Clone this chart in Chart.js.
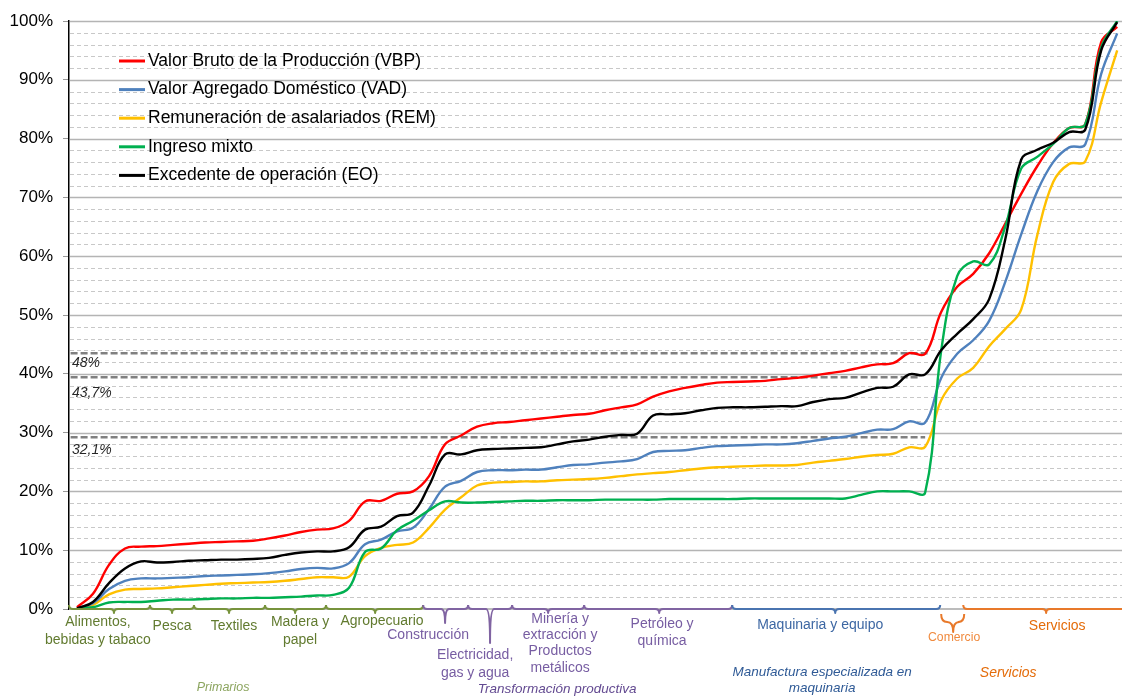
<!DOCTYPE html>
<html lang="es">
<head>
<meta charset="utf-8">
<title>Distribución acumulada por sector</title>
<script src="https://cdn.jsdelivr.net/npm/chart.js@4.4.1/dist/chart.umd.min.js"></script>
<style>
  html, body { margin: 0; padding: 0; background: #fff; }
  #wrap { width: 1122px; height: 696px; position: relative; }
</style>
</head>
<body>
<div id="wrap"><canvas id="grafico"></canvas></div>
<script>
// Sectores ordenados (posición en el eje x)
const sectores = [1, 2, 3, 4, 5, 6, 7, 8, 9, 10, 11, 12, 13, 14, 15, 16, 17, 18, 19, 20, 21, 22,
  23, 24, 25, 26, 27, 28, 29, 30, 31, 32, 33, 34, 35, 36, 37, 38, 39, 40, 41, 42, 43, 44,
  45, 46, 47, 48, 49, 50, 51, 52, 53, 54, 55, 56, 57, 58, 59, 60, 61, 62, 63, 64, 65, 66];

// Participación acumulada (%)
const vbp = [0.3, 2.6, 7.5, 10.3, 10.6, 10.7, 10.9, 11.1, 11.3, 11.4, 11.5, 11.6, 12.0, 12.5, 13.1, 13.5,
  13.7, 15.0, 18.3, 18.4, 19.6, 20.0, 22.6, 28.0, 29.5, 31.0, 31.6, 31.8, 32.1, 32.4, 32.7, 33.0,
  33.2, 33.8, 34.3, 34.8, 36.1, 37.0, 37.6, 38.1, 38.5, 38.6, 38.7, 38.8, 39.1, 39.3, 39.7, 40.1,
  40.5, 41.1, 41.6, 41.8, 43.5, 43.4, 50.5, 54.8, 57.0, 60.5, 65.5, 70.6, 75.3, 79.2, 81.8, 82.4, 96.4, 99.0];
const vad = [0.1, 1.0, 3.4, 4.8, 5.2, 5.2, 5.3, 5.4, 5.6, 5.7, 5.8, 5.9, 6.1, 6.4, 6.8, 7.0,
  6.9, 7.8, 11.0, 11.8, 13.2, 13.8, 17.0, 20.8, 21.8, 23.3, 23.6, 23.6, 23.7, 23.7, 24.1, 24.5,
  24.6, 24.9, 25.1, 25.5, 26.7, 26.9, 27.0, 27.4, 27.7, 27.8, 27.9, 28.0, 28.0, 28.2, 28.6, 29.0,
  29.3, 29.9, 30.5, 30.6, 31.9, 31.7, 39.3, 43.4, 45.7, 49.0, 55.6, 63.7, 71.0, 76.0, 78.5, 79.0, 91.0, 97.9];
const rem = [0.1, 0.7, 2.5, 3.3, 3.4, 3.5, 3.7, 3.9, 4.1, 4.3, 4.4, 4.5, 4.6, 4.8, 5.1, 5.4,
  5.4, 5.5, 9.0, 10.4, 10.9, 11.3, 13.8, 16.9, 19.0, 21.0, 21.5, 21.6, 21.7, 21.7, 21.9, 22.0,
  22.1, 22.3, 22.6, 22.9, 23.1, 23.3, 23.6, 23.9, 24.1, 24.2, 24.3, 24.4, 24.4, 24.5, 24.9, 25.2,
  25.5, 25.9, 26.2, 26.4, 27.5, 27.6, 35.5, 39.2, 41.0, 44.7, 47.6, 50.9, 63.5, 72.6, 75.7, 76.1, 86.2, 95.0];
const im = [0.1, 0.3, 1.1, 1.2, 1.2, 1.4, 1.6, 1.6, 1.7, 1.8, 1.8, 1.9, 1.9, 2.0, 2.1, 2.3,
  2.4, 3.6, 9.7, 10.3, 13.4, 15.0, 16.8, 18.3, 18.1, 18.1, 18.2, 18.3, 18.4, 18.4, 18.5, 18.5,
  18.5, 18.6, 18.6, 18.6, 18.6, 18.7, 18.7, 18.7, 18.7, 18.7, 18.8, 18.8, 18.8, 18.8, 18.8, 18.8,
  18.8, 19.4, 20.0, 20.0, 20.0, 19.8, 43.9, 56.6, 59.1, 58.6, 65.0, 74.9, 76.9, 79.1, 81.8, 82.4, 95.5, 100];
const eo = [0.1, 1.2, 4.4, 6.9, 8.1, 7.9, 8.0, 8.2, 8.3, 8.4, 8.4, 8.5, 8.7, 9.2, 9.6, 9.8,
  9.8, 10.5, 13.5, 14.0, 15.8, 16.4, 21.0, 26.3, 26.3, 27.0, 27.2, 27.3, 27.4, 27.5, 28.0, 28.5,
  28.8, 29.3, 29.6, 29.8, 32.9, 33.1, 33.3, 33.8, 34.2, 34.3, 34.3, 34.4, 34.5, 34.5, 35.2, 35.7,
  35.9, 36.8, 37.6, 37.8, 39.9, 39.9, 44.0, 46.8, 49.3, 52.7, 62.8, 76.4, 78.1, 79.3, 81.1, 81.5, 95.0, 99.8];

// Líneas de referencia punteadas (valor en el eje y y sector donde terminan)
const refValores = [43.5, 39.4, 29.2];
const refFin = [54.3, 53.6, 54.0];
const refEtiquetas = ['48%', '43,7%', '32,1%'];

// Textos del eje x
const etiquetasSector = [
  ['Alimentos,', 'bebidas y tabaco'], ['Pesca'], ['Textiles'], ['Madera y', 'papel'], ['Agropecuario'],
  ['Construcción'], ['Electricidad,', 'gas y agua'], ['Minería y', 'extracción y', 'Productos', 'metálicos'],
  ['Petróleo y', 'química'], ['Maquinaria y equipo'], ['Comercio'], ['Servicios']
];
const etiquetasGrupo = [['Primarios'], ['Transformación productiva'], ['Manufactura especializada en', 'maquinaria'], ['Servicios']];

const FUENTE = "'Liberation Sans', Arial, sans-serif";
const C = {
  verde: '#77933C', verdeTxt: '#627B30', verdeGrp: '#8CA55F',
  morado: '#8064A2', moradoTxt: '#775DA2', moradoGrp: '#634A91',
  azul: '#4A74B0', azulTxt: '#3D67A3', azulGrp: '#2F5A96',
  naranja: '#E8792A', naranjaTxt: '#E46C0A', comercioTxt: '#F08A3E'
};

// Posición de las llaves y etiquetas (en unidades del eje x / px)
const llaves = [
  { a: 0.5, b: 5.56, p: 3.31, largo: 4, col: C.verde, txt: C.verdeTxt, tx: 2.31, ty: 622, paso: 18 },
  { a: 5.56, b: 8.31, p: 6.94, largo: 4, col: C.verde, txt: C.verdeTxt, tx: 6.94, ty: 626 },
  { a: 8.31, b: 12.75, p: 10.5, largo: 4, col: C.verde, txt: C.verdeTxt, tx: 10.81, ty: 626 },
  { a: 12.75, b: 16.56, p: 14.63, largo: 4, col: C.verde, txt: C.verdeTxt, tx: 14.94, ty: 622, paso: 18 },
  { a: 16.56, b: 22.63, p: 19.63, largo: 4, col: C.verde, txt: C.verdeTxt, tx: 20.06, ty: 621 },
  { a: 22.63, b: 25.44, p: 24.0, largo: 14, col: C.morado, txt: C.moradoTxt, tx: 22.94, ty: 635 },
  { a: 25.44, b: 28.19, p: 26.81, largo: 34, col: C.morado, txt: C.moradoTxt, tx: 25.88, ty: 655, paso: 18 },
  { a: 28.19, b: 32.69, p: 30.44, largo: 4, col: C.morado, txt: C.moradoTxt, tx: 31.19, ty: 619, paso: 16.3 },
  { a: 32.69, b: 41.94, p: 37.38, largo: 4, col: C.morado, txt: C.moradoTxt, tx: 37.56, ty: 624, paso: 17 },
  { a: 41.94, b: 54.94, p: 48.38, largo: 4, col: C.azul, txt: C.azulTxt, tx: 47.44, ty: 625 },
  { a: 55.0, b: 56.44, p: 55.75, largo: 10, col: C.naranja, txt: C.comercioTxt, tx: 55.81, ty: 638, base: 13, rizo: 8, r: 6, size: 12.2 },
  { a: 56.38, b: 66.6, p: 61.56, largo: 4, col: C.naranja, txt: C.naranjaTxt, tx: 62.25, ty: 626 }
];
const grupos = [
  { tx: 10.13, ty: 688, col: C.verdeGrp, size: 12.5 },
  { tx: 31.0, ty: 689, col: C.moradoGrp, size: 13.5 },
  { tx: 47.56, ty: 672, col: C.azulGrp, size: 13.5, paso: 16 },
  { tx: 59.19, ty: 673, col: C.naranjaTxt, size: 14 }
];

function serie(valores) {
  return sectores.map((x, i) => ({ x, y: valores[i] }));
}

function llave(ctx, x1, x2, xc, y, rizo, punta, r) {
  ctx.beginPath();
  ctx.moveTo(x1, y - rizo);
  ctx.quadraticCurveTo(x1, y, x1 + r, y);
  ctx.lineTo(xc - r, y);
  ctx.quadraticCurveTo(xc, y, xc, y + punta);
  ctx.quadraticCurveTo(xc, y, xc + r, y);
  ctx.lineTo(x2 - r, y);
  ctx.quadraticCurveTo(x2, y, x2, y - rizo);
  ctx.stroke();
}

const plugFondo = {
  id: 'fondo',
  beforeDatasetsDraw(chart) {
    const { ctx, chartArea: area, scales: { y } } = chart;
    ctx.save();
    for (let v = 2; v <= 100; v += 2) {
      const py = Math.round(y.getPixelForValue(v)) + 0.5;
      ctx.beginPath();
      if (v % 10 === 0) {
        ctx.setLineDash([]); ctx.strokeStyle = '#b4b4b4'; ctx.lineWidth = 1.3;
      } else {
        ctx.setLineDash([4, 3]); ctx.strokeStyle = '#c8c8c8'; ctx.lineWidth = 1;
      }
      ctx.moveTo(area.left + 1, py);
      ctx.lineTo(area.right, py);
      ctx.stroke();
    }
    ctx.restore();
  },
  afterDraw(chart) {
    const { ctx, chartArea: area, scales: { x, y } } = chart;
    const y0 = y.getPixelForValue(0);
    ctx.save();

    // leyenda
    ctx.font = '17.5px ' + FUENTE;
    ctx.textBaseline = 'middle';
    chart.data.datasets.slice(0, 5).forEach((ds, i) => {
      const yy = 61 + i * 28.6;
      ctx.strokeStyle = ds.borderColor;
      ctx.lineWidth = 3;
      ctx.beginPath(); ctx.moveTo(119, yy); ctx.lineTo(145, yy); ctx.stroke();
      ctx.fillStyle = '#000';
      ctx.fillText(ds.label, 148, yy);
    });

    // etiquetas de las líneas de referencia
    ctx.font = 'italic 14px ' + FUENTE;
    ctx.fillStyle = '#262626';
    ctx.textAlign = 'left';
    const desp = [10, 16, 13];
    refValores.forEach((v, i) => {
      ctx.fillText(refEtiquetas[i], area.left + 3, y.getPixelForValue(v) + desp[i]);
    });

    // línea base del eje x
    ctx.strokeStyle = '#a6a6a6';
    ctx.lineWidth = 1.5;
    ctx.beginPath(); ctx.moveTo(area.left, y0); ctx.lineTo(area.right, y0); ctx.stroke();

    // llaves y nombres de sectores
    ctx.lineJoin = 'round';
    ctx.textAlign = 'center';
    llaves.forEach((l, i) => {
      ctx.strokeStyle = l.col;
      ctx.lineWidth = 2;
      llave(ctx, x.getPixelForValue(l.a), x.getPixelForValue(l.b), x.getPixelForValue(l.p),
        y0 + (l.base || 0), l.rizo || 4, l.largo, l.r || 4);
      ctx.fillStyle = l.txt;
      ctx.font = (l.size || 14) + 'px ' + FUENTE;
      etiquetasSector[i].forEach((t, k) => {
        ctx.fillText(t, x.getPixelForValue(l.tx), l.ty + k * (l.paso || 17));
      });
    });

    // nombres de los grandes grupos
    grupos.forEach((g, i) => {
      ctx.fillStyle = g.col;
      ctx.font = 'italic ' + g.size + 'px ' + FUENTE;
      etiquetasGrupo[i].forEach((t, k) => {
        ctx.fillText(t, x.getPixelForValue(g.tx), g.ty + k * (g.paso || 16));
      });
    });
    ctx.restore();
  }
};

const lineas = [
  { label: 'Valor Bruto de la Producción (VBP)', data: serie(vbp), borderColor: '#FF0000', order: 2 },
  { label: 'Valor Agregado Doméstico (VAD)', data: serie(vad), borderColor: '#4F81BD', order: 3 },
  { label: 'Remuneración de asalariados (REM)', data: serie(rem), borderColor: '#FFC000', order: 4 },
  { label: 'Ingreso mixto', data: serie(im), borderColor: '#00B050', order: 1 },
  { label: 'Excedente de operación (EO)', data: serie(eo), borderColor: '#000000', order: 0 }
].map(d => Object.assign(d, { borderWidth: 2.4, pointRadius: 0, tension: 0.4, fill: false }));

const referencias = refValores.map((v, i) => ({
  label: refEtiquetas[i],
  data: [{ x: 0.6, y: v }, { x: refFin[i], y: v }],
  borderColor: '#808080',
  borderWidth: 2.5,
  borderDash: [7, 3],
  pointRadius: 0,
  tension: 0,
  order: 5
}));

new Chart(document.getElementById('grafico'), {
  type: 'line',
  data: { datasets: [...lineas, ...referencias] },
  options: {
    responsive: true,
    maintainAspectRatio: false,
    animation: false,
    layout: { padding: { top: 21, right: 0, bottom: 87, left: 0 } },
    plugins: { legend: { display: false }, tooltip: { enabled: false } },
    scales: {
      x: { type: 'linear', min: 0.5, max: 66.3, display: false },
      y: {
        min: 0, max: 100,
        afterFit: s => { s.width = 69; },
        border: { display: true, color: '#000', width: 1.5 },
        grid: { drawOnChartArea: false, drawTicks: true, tickLength: 6, color: '#999' },
        ticks: {
          stepSize: 10, padding: 10, color: '#000',
          font: { family: FUENTE, size: 17 },
          callback: v => v + '%'
        }
      }
    }
  },
  plugins: [plugFondo]
});
</script>
</body>
</html>
